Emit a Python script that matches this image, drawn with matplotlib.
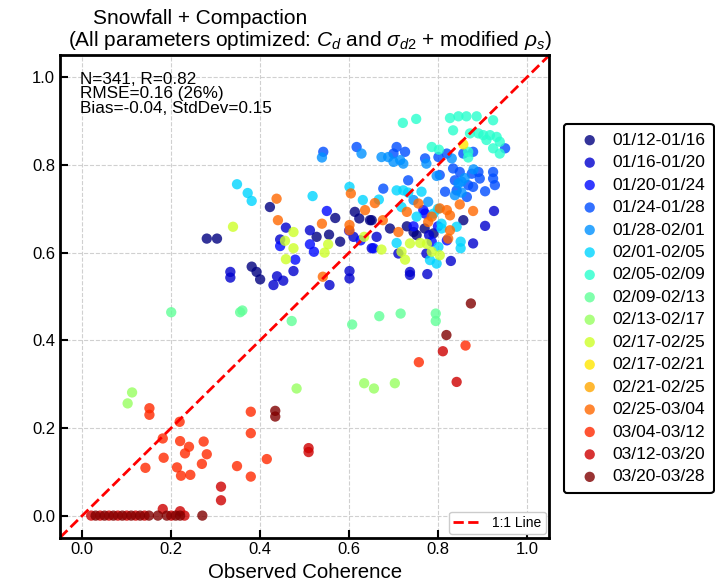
import numpy as np
import matplotlib
matplotlib.use('Agg')
import matplotlib.pyplot as plt

plt.rcParams['font.family'] = ['Liberation Sans', 'DejaVu Sans']
plt.rcParams['mathtext.fontset'] = 'custom'
plt.rcParams['mathtext.it'] = 'Liberation Sans:italic'
plt.rcParams['mathtext.rm'] = 'Liberation Sans'

# period labels (legend order)
periods = ['01/12-01/16', '01/16-01/20', '01/20-01/24', '01/24-01/28', '01/28-02/01',
           '02/01-02/05', '02/05-02/09', '02/09-02/13', '02/13-02/17', '02/17-02/25',
           '02/17-02/21', '02/21-02/25', '02/25-03/04', '03/04-03/12', '03/12-03/20',
           '03/20-03/28']

# (observed, modelled) coherence per period
p0112 = [(0.280, 0.632), (0.303, 0.632), (0.422, 0.704), (0.381, 0.568), (0.392, 0.556),
         (0.400, 0.539), (0.569, 0.679), (0.555, 0.641), (0.580, 0.625), (0.613, 0.693),
         (0.623, 0.678), (0.647, 0.674), (0.527, 0.636), (0.692, 0.655), (0.745, 0.647),
         (0.752, 0.640), (0.790, 0.644), (0.857, 0.674), (0.651, 0.674), (0.730, 0.660),
         (0.770, 0.655)]
p0116 = [(0.333, 0.556), (0.333, 0.543), (0.430, 0.526), (0.452, 0.536), (0.438, 0.546),
         (0.475, 0.558), (0.556, 0.526), (0.601, 0.558), (0.601, 0.541), (0.737, 0.556),
         (0.737, 0.549), (0.776, 0.551), (0.829, 0.581), (0.879, 0.621), (0.906, 0.661),
         (0.926, 0.695), (0.512, 0.651), (0.458, 0.657), (0.445, 0.630), (0.610, 0.636),
         (0.651, 0.610), (0.662, 0.636), (0.711, 0.598), (0.774, 0.598), (0.780, 0.640)]
p0120 = [(0.550, 0.695), (0.445, 0.615), (0.479, 0.584), (0.512, 0.619), (0.521, 0.602),
         (0.626, 0.628), (0.655, 0.610), (0.767, 0.697), (0.786, 0.625), (0.820, 0.628),
         (0.771, 0.689), (0.745, 0.660), (0.800, 0.660), (0.600, 0.650)]
p0124 = [(0.542, 0.830), (0.617, 0.841), (0.707, 0.841), (0.726, 0.830), (0.700, 0.826),
         (0.771, 0.815), (0.801, 0.818), (0.820, 0.826), (0.857, 0.826), (0.879, 0.830),
         (0.951, 0.838), (0.834, 0.792), (0.804, 0.777), (0.849, 0.784), (0.876, 0.780),
         (0.891, 0.784), (0.924, 0.784), (0.924, 0.769), (0.928, 0.754), (0.894, 0.769),
         (0.733, 0.765), (0.677, 0.746), (0.838, 0.765), (0.868, 0.754), (0.879, 0.750),
         (0.842, 0.742), (0.865, 0.727), (0.906, 0.740), (0.816, 0.739)]
p0128 = [(0.539, 0.817), (0.628, 0.826), (0.673, 0.818), (0.688, 0.818), (0.715, 0.811),
         (0.722, 0.803), (0.700, 0.807), (0.774, 0.803), (0.831, 0.815), (0.846, 0.758),
         (0.853, 0.762), (0.853, 0.737), (0.838, 0.731), (0.745, 0.720), (0.778, 0.716),
         (0.797, 0.775), (0.860, 0.770), (0.880, 0.790)]
p0201 = [(0.348, 0.756), (0.372, 0.736), (0.381, 0.718), (0.518, 0.729), (0.601, 0.750),
         (0.631, 0.720), (0.667, 0.721), (0.707, 0.742), (0.722, 0.742), (0.733, 0.737),
         (0.763, 0.739), (0.718, 0.704), (0.752, 0.682), (0.790, 0.689), (0.808, 0.666),
         (0.808, 0.655), (0.842, 0.659), (0.707, 0.622), (0.801, 0.613), (0.782, 0.583),
         (0.797, 0.575), (0.851, 0.625), (0.851, 0.610), (0.800, 0.700)]
p0205 = [(0.721, 0.896), (0.751, 0.905), (0.827, 0.907), (0.846, 0.911), (0.864, 0.911),
         (0.887, 0.911), (0.924, 0.902), (0.834, 0.879), (0.872, 0.872), (0.891, 0.872),
         (0.902, 0.868), (0.917, 0.868), (0.932, 0.864), (0.909, 0.857), (0.939, 0.853),
         (0.924, 0.838), (0.939, 0.826), (0.786, 0.841), (0.802, 0.835), (0.868, 0.830),
         (0.868, 0.817)]
p0209 = [(0.200, 0.464), (0.355, 0.464), (0.360, 0.468), (0.471, 0.444), (0.607, 0.436),
         (0.668, 0.455), (0.716, 0.461), (0.795, 0.461), (0.795, 0.444)]
p0213 = [(0.112, 0.281), (0.102, 0.256), (0.482, 0.290), (0.634, 0.302), (0.656, 0.290),
         (0.703, 0.302)]
p0217a = [(0.339, 0.659), (0.475, 0.647), (0.456, 0.627), (0.475, 0.610), (0.458, 0.585),
          (0.553, 0.619), (0.545, 0.600), (0.634, 0.636), (0.673, 0.607), (0.718, 0.602),
          (0.726, 0.584), (0.737, 0.621), (0.760, 0.622), (0.775, 0.620), (0.786, 0.602),
          (0.804, 0.594)]
p0217b = [(0.857, 0.847)]
p0221 = []
p0225 = [(0.437, 0.723), (0.440, 0.674), (0.539, 0.666), (0.604, 0.735), (0.601, 0.663),
         (0.601, 0.651), (0.636, 0.697), (0.658, 0.713), (0.676, 0.674), (0.711, 0.647),
         (0.730, 0.693), (0.756, 0.712), (0.778, 0.670), (0.786, 0.682), (0.804, 0.701),
         (0.820, 0.697), (0.827, 0.685), (0.827, 0.651), (0.823, 0.632), (0.849, 0.710),
         (0.879, 0.695), (0.541, 0.545)]
p0304 = [(0.151, 0.245), (0.151, 0.230), (0.219, 0.214), (0.181, 0.176), (0.220, 0.170),
         (0.273, 0.169), (0.240, 0.157), (0.231, 0.142), (0.280, 0.140), (0.183, 0.132),
         (0.142, 0.109), (0.213, 0.110), (0.269, 0.118), (0.222, 0.091), (0.243, 0.093),
         (0.348, 0.113), (0.379, 0.237), (0.379, 0.188), (0.379, 0.089), (0.415, 0.129),
         (0.862, 0.388), (0.757, 0.350)]
p0312 = [(0.312, 0.066), (0.312, 0.035), (0.811, 0.375), (0.842, 0.305), (0.509, 0.154),
         (0.509, 0.145), (0.02, 0.0), (0.04, 0.0), (0.06, 0.0), (0.08, 0.0), (0.10, 0.0),
         (0.12, 0.0), (0.14, 0.0), (0.181, 0.015), (0.20, 0.0), (0.22, 0.01), (0.23, 0.0)]
p0320 = [(0.874, 0.484), (0.819, 0.412), (0.434, 0.239), (0.434, 0.226), (0.03, 0.0),
         (0.05, 0.0), (0.07, 0.0), (0.09, 0.0), (0.11, 0.0), (0.13, 0.0), (0.15, 0.0),
         (0.17, 0.0), (0.19, 0.0), (0.21, 0.0), (0.22, 0.0), (0.27, 0.0)]

groups = [p0112, p0116, p0120, p0124, p0128, p0201, p0205, p0209, p0213, p0217a,
          p0217b, p0221, p0225, p0304, p0312, p0320]

stats_text = 'N=341, R=0.82\nRMSE=0.16 (26%)\nBias=-0.04, StdDev=0.15'

colors = plt.cm.jet(np.linspace(0, 1, len(periods)))

fig = plt.figure(figsize=(7.15, 5.83), dpi=100)
ax = fig.add_axes([0.084, 0.078, 0.684, 0.827])

handles = []
for lab, pts, c in zip(periods, groups, colors):
    pts = np.array(pts).reshape(-1, 2)
    h = ax.scatter(pts[:, 0], pts[:, 1], s=55, color=c, alpha=0.8,
                   edgecolors='none', label=lab)
    handles.append(h)

line, = ax.plot([-0.05, 1.05], [-0.05, 1.05], 'r--', lw=2, label='1:1 Line')

ax.set_xlim(-0.05, 1.05)
ax.set_ylim(-0.05, 1.05)
ax.set_xticks(np.arange(0, 1.01, 0.2))
ax.set_yticks(np.arange(0, 1.01, 0.2))
ax.grid(True, color='#d0d0d0', linestyle='--', linewidth=0.8)
ax.set_axisbelow(True)
ax.tick_params(direction='in', length=6, width=1.5, labelsize=12)
for s in ax.spines.values():
    s.set_linewidth(2)
ax.set_xlabel('Observed Coherence', fontsize=14.7, labelpad=4)

ax.text(0.04, 0.966, stats_text, transform=ax.transAxes, fontsize=12.3,
        va='top', ha='left', linespacing=0.97)

leg1 = ax.legend(handles=[line], loc='lower right', fontsize=10, handlelength=2,
                 borderpad=0.3, borderaxespad=0.25, framealpha=1)
ax.add_artist(leg1)
leg2 = ax.legend(handles=handles, loc='center left', bbox_to_anchor=(1.012, 0.475),
                 fontsize=12.5, labelspacing=0.42, handletextpad=0.3,
                 borderpad=0.5, edgecolor='black', framealpha=1)
leg2.get_frame().set_linewidth(1.5)

fig.text(200 / 715, 1 - 19 / 583, 'Snowfall + Compaction', fontsize=15,
         ha='center', va='center')
fig.text(310 / 715, 1 - 40 / 583,
         r'(All parameters optimized: $C_d$ and $\sigma_{d2}$ + modified $\rho_s$)',
         fontsize=15, ha='center', va='center')

fig.savefig('out.png', dpi=100)
